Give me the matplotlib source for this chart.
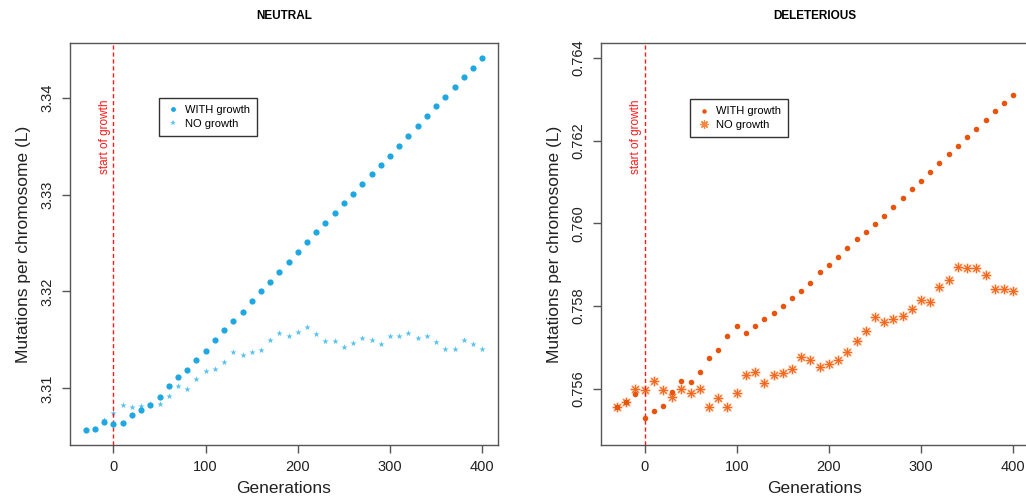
import numpy as np
import matplotlib.pyplot as plt
from matplotlib.lines import Line2D

plt.rcParams['font.family'] = ['Liberation Sans', 'DejaVu Sans']

# generations sampled every 10, growth starts at 0
generations = list(range(-30, 410, 10))

# neutral mutations per chromosome
neutral_growth = [3.3057, 3.3058, 3.3065, 3.3063, 3.3064, 3.3073, 3.3078, 3.3083, 3.3091, 3.3103,
                  3.3112, 3.3119, 3.3129, 3.3139, 3.3150, 3.3160, 3.3170, 3.3179, 3.3190, 3.3200,
                  3.3210, 3.3220, 3.3230, 3.3241, 3.3251, 3.3261, 3.3271, 3.3281, 3.3291, 3.3301,
                  3.3311, 3.3321, 3.3331, 3.3340, 3.3350, 3.3360, 3.3371, 3.3381, 3.3391, 3.3401,
                  3.3411, 3.3421, 3.3431, 3.3441]
neutral_nogrowth = [3.3057, 3.3058, 3.3067, 3.3075, 3.3083, 3.3081, 3.3082, 3.3084, 3.3084, 3.3092,
                    3.3102, 3.3099, 3.3110, 3.3118, 3.3120, 3.3127, 3.3138, 3.3134, 3.3138, 3.3140,
                    3.3150, 3.3157, 3.3154, 3.3158, 3.3163, 3.3156, 3.3149, 3.3149, 3.3143, 3.3147,
                    3.3152, 3.3150, 3.3146, 3.3154, 3.3154, 3.3157, 3.3152, 3.3154, 3.3148, 3.3141,
                    3.3141, 3.3150, 3.3146, 3.3141]

# deleterious mutations per chromosome
del_growth = [0.755564, 0.755685, 0.755863, 0.755298, 0.755467, 0.755572, 0.755927, 0.756178, 0.756153, 0.756396,
              0.756751, 0.756928, 0.757267, 0.757526, 0.757348, 0.757510, 0.757695, 0.757841, 0.758002, 0.758196,
              0.758373, 0.758559, 0.758817, 0.758995, 0.759197, 0.759399, 0.759625, 0.759786, 0.759988, 0.760166,
              0.760392, 0.760601, 0.760827, 0.761029, 0.761239, 0.761457, 0.761667, 0.761861, 0.762079, 0.762289,
              0.762498, 0.762708, 0.762910, 0.763112]
del_nogrowth = [0.755564, 0.755685, 0.756000, 0.755968, 0.756186, 0.755976, 0.755798, 0.755992, 0.755887, 0.755992,
                0.755564, 0.755782, 0.755556, 0.755887, 0.756323, 0.756404, 0.756145, 0.756331, 0.756371, 0.756476,
                0.756759, 0.756694, 0.756525, 0.756597, 0.756702, 0.756888, 0.757154, 0.757405, 0.757744, 0.757623,
                0.757687, 0.757768, 0.757929, 0.758147, 0.758099, 0.758454, 0.758632, 0.758955, 0.758922, 0.758914,
                0.758745, 0.758406, 0.758406, 0.758373]

blue = '#1ea7e1'
blue_light = '#55c2ef'
orange = '#e8540c'
orange_light = '#f7883f'
frame = '#555555'
asterisk = (8, 2, 0)

fig = plt.figure(figsize=(10.26, 5.04), dpi=100)
ax1 = fig.add_axes([0.0682, 0.1171, 0.4172, 0.7976])
ax2 = fig.add_axes([0.5858, 0.1171, 0.4172, 0.7976])


def r_extend(lo, hi):
    d = (hi - lo) * 0.04
    return lo - d, hi + d


def style(ax, title, yticks, fmt):
    ax.set_xlim(*r_extend(-30, 400))
    ax.set_xticks([0, 100, 200, 300, 400])
    ax.set_yticks(yticks)
    ax.set_yticklabels([fmt % v for v in yticks], rotation=90, va='center')
    for s in ax.spines.values():
        s.set_color(frame)
        s.set_linewidth(1.0)
    ax.tick_params(direction='out', length=6, width=1, color=frame, labelsize=10.5,
                   labelcolor='#222222', pad=5)
    ax.set_title(title, fontsize=8.5, fontweight='bold', pad=17)
    ax.set_xlabel('Generations', fontsize=12.5, labelpad=5, color='#222222')
    ax.set_ylabel('Mutations per chromosome (L)', fontsize=12.5, labelpad=7, color='#222222')
    ax.axvline(0, color='#ff1a1a', lw=1.0, ls=(0, (3, 2)))
    ax.text(-3, 0.86, 'start of growth', rotation=90, color='#ff1a1a', fontsize=8.5,
            ha='right', va='top', transform=ax.get_xaxis_transform())


def add_legend(ax, handles, anchor):
    ax.legend(handles, ['WITH growth', 'NO growth'], loc='upper left', bbox_to_anchor=anchor,
              borderaxespad=0, fancybox=False, edgecolor='#333333', fontsize=8,
              handlelength=1.2, handletextpad=0.5, borderpad=0.65, labelspacing=0.3,
              framealpha=1)


# NEUTRAL
ax1.scatter(generations, neutral_nogrowth, marker='*', s=22, color=blue_light, linewidths=0, zorder=2)
ax1.scatter(generations, neutral_growth, marker='o', s=20, color=blue, linewidths=0, zorder=3)
ax1.set_ylim(*r_extend(min(neutral_growth), max(neutral_growth)))
style(ax1, 'NEUTRAL', [3.31, 3.32, 3.33, 3.34], '%.2f')
add_legend(ax1, [Line2D([], [], ls='', marker='o', ms=3.5, color=blue, mew=0),
                 Line2D([], [], ls='', marker='*', ms=4, color=blue_light, mew=0)],
           (0.208, 0.863))

# DELETERIOUS
ax2.scatter(generations, del_nogrowth, marker=asterisk, s=44, color=orange_light, linewidths=1.4,
            alpha=0.35, zorder=2)
ax2.scatter(generations, del_nogrowth, marker=asterisk, s=30, color='#f06a22', linewidths=0.7, zorder=2)
ax2.scatter(generations, del_growth, marker='o', s=16, color=orange, linewidths=0, zorder=3)
ax2.set_ylim(*r_extend(0.755, 0.764))
style(ax2, 'DELETERIOUS', [0.756, 0.758, 0.760, 0.762, 0.764], '%.3f')
add_legend(ax2, [Line2D([], [], ls='', marker='o', ms=3.2, color=orange, mew=0),
                 Line2D([], [], ls='', marker=asterisk, ms=6, color=orange_light, mew=0.9)],
           (0.208, 0.860))

fig.savefig('out.png', dpi=100)
